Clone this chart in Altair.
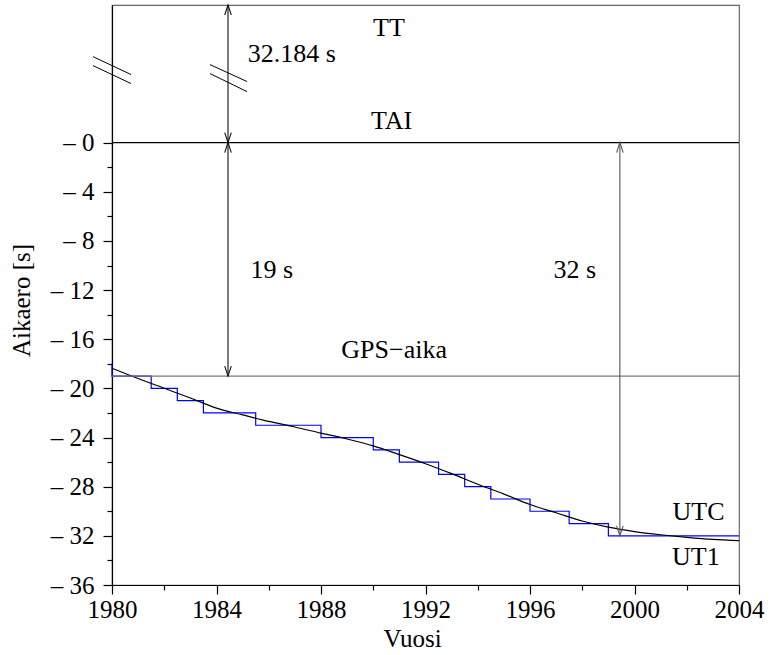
import altair as alt
import pandas as pd

# ---- data ----
ut1_years = list(range(1980, 2005))
ut1_values = [-18.36, -19.20, -19.99, -20.78, -21.61, -22.16, -22.69, -23.14, -23.64,
              -24.12, -24.68, -25.39, -26.13, -26.94, -27.80, -28.60, -29.45, -30.12,
              -30.79, -31.29, -31.65, -31.91, -32.12, -32.29, -32.39]

utc_years = [1980.0, 1980.0, 1981.5, 1982.5, 1983.5, 1985.5, 1988.0, 1990.0, 1991.0,
             1992.5, 1993.5, 1994.5, 1996.0, 1997.5, 1999.0, 2004.0]
utc_values = [-18, -19, -20, -21, -22, -23, -24, -25, -26, -27, -28, -29, -30, -31, -32, -32]

tai_value = 0
gps_value = -19
y_top = 11.2

# arrows: x, from, to
arrow_x = [1984.44, 1984.44, 1999.44]
arrow_from = [y_top, 0, 0]
arrow_to = [0, -19, -32]
arrow_col = ["#111111", "#111111", "#555555"]

# axis-break marks (//)
break_x1 = [1979.27, 1979.27, 1983.75, 1983.75]
break_x2 = [1980.73, 1980.73, 1985.17, 1985.17]
break_y1 = [7.00, 6.27, 6.35, 5.62]
break_y2 = [5.54, 4.81, 4.97, 4.15]

labels_c = ["TT", "TAI", "GPS\u2212aika", "UTC", "UT1"]
labels_c_x = [1990.6, 1990.7, 1990.8, 2002.45, 2002.35]
labels_c_y = [9.3, 1.8, -16.9, -30.05, -33.7]

labels_l = ["32.184 s", "19 s", "32 s"]
labels_l_x = [1985.2, 1985.3, 1996.9]
labels_l_y = [7.2, -10.4, -10.35]

# ---- tables ----
ut1 = pd.DataFrame({"x": ut1_years, "y": ut1_values})
utc = pd.DataFrame({"x": utc_years, "y": utc_values, "i": range(len(utc_years))})
arrows = pd.DataFrame({"x": arrow_x, "y": arrow_from, "y2": arrow_to, "c": arrow_col})
heads_up = pd.DataFrame({"x": arrow_x, "y": [max(a, b) for a, b in zip(arrow_from, arrow_to)],
                         "c": arrow_col})
heads_dn = pd.DataFrame({"x": arrow_x, "y": [min(a, b) for a, b in zip(arrow_from, arrow_to)],
                         "c": arrow_col})
breaks = pd.DataFrame({"x": break_x1, "x2": break_x2, "y": break_y1, "y2": break_y2})
tc = pd.DataFrame({"x": labels_c_x, "y": labels_c_y, "t": labels_c})
tl = pd.DataFrame({"x": labels_l_x, "y": labels_l_y, "t": labels_l})

FONT = "Liberation Serif"
FS = 25
FS_T = 26

xs = alt.Scale(domain=[1980, 2004], nice=False, zero=False)
ys = alt.Scale(domain=[-36, y_top], nice=False, zero=False)

common = dict(
    labelFont=FONT, labelFontSize=FS, labelColor="black",
    titleFont=FONT, titleFontSize=FS, titleFontWeight="normal", titleColor="black",
    domainColor="black", tickColor="black", domainWidth=1.2, tickWidth=1.2,
    grid=False, labelOverlap=False, labelFlush=False,
    tickSize={"condition": {"test": "datum.value % 4 === 0", "value": 9}, "value": 5},
)

xaxis = alt.Axis(
    values=list(range(1980, 2005, 2)), format="d",
    labelExpr="datum.value % 4 === 0 ? datum.label : ''",
    labelPadding=3,
    title="Vuosi", titleX=300, titleY=53, titleAlign="center", titleBaseline="middle",
    **common,
)
yaxis = alt.Axis(
    values=list(range(-36, 1, 2)),
    labelExpr="datum.value % 4 === 0 ? '\u2013 ' + abs(datum.value) : ''",
    labelPadding=9,
    title="Aikaero [s]", titleX=-91, titleY=295, titleAngle=270,
    titleAlign="center", titleBaseline="middle",
    **common,
)

X = alt.X("x:Q", scale=xs, axis=xaxis)
Y = alt.Y("y:Q", scale=ys, axis=yaxis)

utc_line = alt.Chart(utc).mark_line(interpolate="step-after", color="#0000ff", strokeWidth=1.2).encode(
    x=X, y=Y, order="i:Q")
ut1_line = alt.Chart(ut1).mark_line(interpolate="monotone", color="black", strokeWidth=1.2).encode(
    x=X, y=Y)

tai_rule = alt.Chart(pd.DataFrame({"y": [tai_value]})).mark_rule(color="black", strokeWidth=1.2).encode(y=Y)
gps_rule = alt.Chart(pd.DataFrame({"y": [gps_value]})).mark_rule(color="#777777", strokeWidth=1.2).encode(y=Y)

arrow_rules = alt.Chart(arrows).mark_rule(strokeWidth=1.1).encode(
    x=X, y=Y, y2=alt.Y2("y2"), color=alt.Color("c:N", scale=None))

up_shape = "M-0.33,1L0,0L0.33,1"
dn_shape = "M-0.33,-1L0,0L0.33,-1"
up_heads = alt.Chart(heads_up).mark_point(shape=up_shape, size=400, filled=False,
                                          strokeWidth=1.1, opacity=1).encode(
    x=X, y=Y, color=alt.Color("c:N", scale=None))
dn_heads = alt.Chart(heads_dn).mark_point(shape=dn_shape, size=400, filled=False,
                                          strokeWidth=1.1, opacity=1).encode(
    x=X, y=Y, color=alt.Color("c:N", scale=None))

break_rules = alt.Chart(breaks).mark_rule(color="black", strokeWidth=1).encode(
    x=X, x2=alt.X2("x2"), y=Y, y2=alt.Y2("y2"))

text_c = alt.Chart(tc).mark_text(font=FONT, fontSize=FS_T, align="center", baseline="middle",
                                 color="black").encode(x=X, y=Y, text="t:N")
text_l = alt.Chart(tl).mark_text(font=FONT, fontSize=FS_T, align="left", baseline="middle",
                                 color="black").encode(x=X, y=Y, text="t:N")

chart = alt.layer(
    utc_line, ut1_line, tai_rule, gps_rule, arrow_rules, up_heads, dn_heads,
    break_rules, text_c, text_l,
).properties(
    width=627, height=580,
    autosize=alt.AutoSizeParams(type="none"),
    padding={"left": 112, "top": 5, "right": 30, "bottom": 70},
).configure_view(
    stroke="#666666", strokeWidth=1.2,
)

chart.save("out.html", embed_options={"renderer": "svg", "actions": False})
